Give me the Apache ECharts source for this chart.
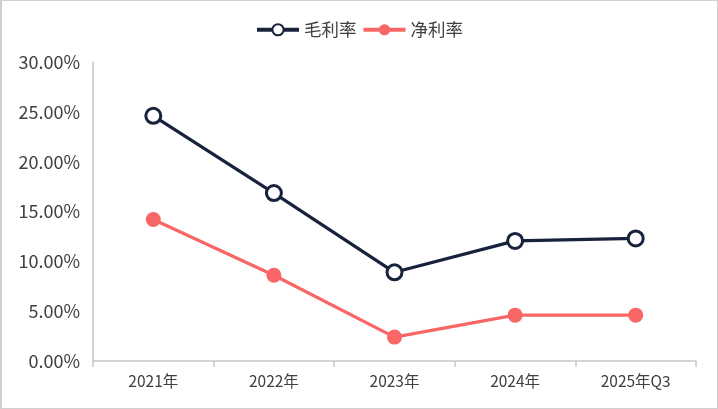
<!DOCTYPE html>
<html>
<head>
<meta charset="utf-8">
<script src="https://cdn.jsdelivr.net/npm/echarts@6/dist/echarts.min.js"></script>
<style>
html,body{margin:0;padding:0;background:#fff;}
#wrap{position:absolute;left:0;top:0;width:718px;height:409px;box-sizing:border-box;border:1px solid #d0d0d0;border-left-width:2px;}
#chart{position:absolute;left:0;top:0;width:718px;height:409px;}
</style>
</head>
<body>
<div id="wrap"></div>
<div id="chart"></div>
<script>
const categories = ['2021年', '2022年', '2023年', '2024年', '2025年Q3'];
const grossMargin = [24.6, 16.85, 8.9, 12.05, 12.3];
const netMargin = [14.2, 8.6, 2.4, 4.6, 4.6];
const seriesNames = ['毛利率', '净利率'];

const chart = echarts.init(document.getElementById('chart'), null, {renderer: 'canvas'});
const font = '"Noto Sans CJK SC", "Noto Sans", sans-serif';
chart.setOption({
  animation: false,
  backgroundColor: 'transparent',
  textStyle: {fontFamily: font},
  legend: {
    top: 16,
    left: 'center',
    itemWidth: 42,
    itemHeight: 14,
    itemGap: 5,
    lineStyle: {width: 4},
    textStyle: {fontSize: 17.5, color: '#404040', fontFamily: font},
    data: seriesNames
  },
  grid: {left: 93, right: 22, top: 62, bottom: 48},
  xAxis: {
    type: 'category',
    data: categories,
    boundaryGap: true,
    axisLine: {lineStyle: {color: '#c8c8c8', width: 1.5}},
    axisTick: {show: true, length: 6, lineStyle: {color: '#c8c8c8', width: 1.5}},
    axisLabel: {fontSize: 15.5, color: '#404040', margin: 12, fontFamily: font}
  },
  yAxis: {
    type: 'value',
    min: 0,
    max: 30,
    interval: 5,
    axisLine: {show: true, lineStyle: {color: '#c8c8c8', width: 1.5}},
    axisTick: {show: false},
    splitLine: {show: false},
    axisLabel: {fontSize: 18, color: '#404040', margin: 13, fontFamily: font,
      formatter: v => v.toFixed(2) + '%'}
  },
  series: [
    {
      name: seriesNames[0],
      type: 'line',
      data: grossMargin,
      symbol: 'circle',
      symbolSize: 15,
      lineStyle: {color: '#18223d', width: 3.2},
      itemStyle: {color: '#ffffff', borderColor: '#18223d', borderWidth: 3},
      z: 3
    },
    {
      name: seriesNames[1],
      type: 'line',
      data: netMargin,
      symbol: 'circle',
      symbolSize: 15,
      lineStyle: {color: '#f86666', width: 3.2},
      itemStyle: {color: '#f86666', borderColor: '#f86666', borderWidth: 0},
      z: 2
    }
  ]
});
</script>
</body>
</html>
